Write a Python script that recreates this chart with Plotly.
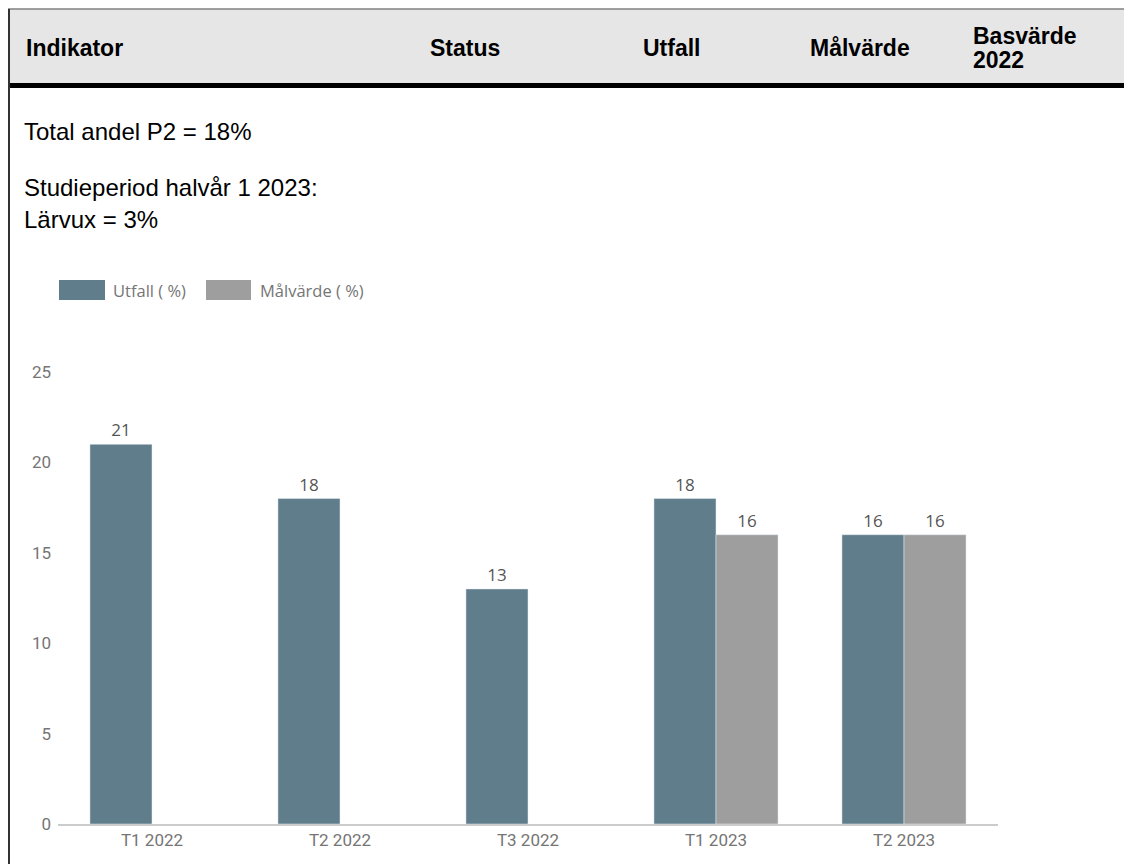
import plotly.graph_objects as go

# ---- data ----
categories = ["T1 2022", "T2 2022", "T3 2022", "T1 2023", "T2 2023"]
utfall = [21, 18, 13, 18, 16]
malvarde = [None, None, None, 16, 16]
series_names = ["Utfall ( %)", "Målvärde ( %)"]
y_ticks = [0, 5, 10, 15, 20, 25]
header_cols = ["Indikator", "Status", "Utfall", "Målvärde", "Basvärde<br>2022"]
info_lines = ["Total andel P2 = 18%", "Studieperiod halvår 1 2023:", "Lärvux = 3%"]

# ---- layout geometry ----
# page has an 8px body margin, so the figure is placed at (8, 8) on the page
OFF = 8
W, H = 1132 - OFF, 864 - OFF
L, R, T, B = 50, 134, 364, 40
PW, PH = W - L - R, H - T - B


def px(x):  # page pixel -> paper x
    return (x - OFF - L) / PW


def py(y):  # page pixel -> paper y
    return (H - B - (y - OFF)) / PH


C_UTF = "#607d8b"
C_MAL = "#9e9e9e"

fig = go.Figure()
fig.add_trace(go.Bar(
    x=categories, y=utfall, name=series_names[0], marker_color=C_UTF,
    text=utfall, textposition="outside", cliponaxis=False,
    textfont=dict(family="Open Sans", size=17, color="#555555"),
))
fig.add_trace(go.Bar(
    x=categories, y=malvarde, name=series_names[1], marker_color=C_MAL,
    text=malvarde, textposition="outside", cliponaxis=False,
    textfont=dict(family="Open Sans", size=17, color="#555555"),
))

shapes = [
    dict(type="rect", xref="paper", yref="paper", x0=px(8), x1=px(1140), y0=py(83), y1=py(9),
         fillcolor="#e6e6e6", line=dict(width=0)),
    dict(type="line", xref="paper", yref="paper", x0=px(8), x1=px(1140), y0=py(9), y1=py(9),
         line=dict(color="#808080", width=1.5)),
    dict(type="rect", xref="paper", yref="paper", x0=px(8), x1=px(1140), y0=py(88), y1=py(83),
         fillcolor="#000000", line=dict(width=0)),
    dict(type="line", xref="paper", yref="paper", x0=px(9), x1=px(9), y0=py(870), y1=py(9),
         line=dict(color="#333333", width=2)),
    dict(type="rect", xref="paper", yref="paper", x0=px(59), x1=px(105), y0=py(300), y1=py(280),
         fillcolor=C_UTF, line=dict(width=0)),
    dict(type="rect", xref="paper", yref="paper", x0=px(206), x1=px(251), y0=py(300), y1=py(280),
         fillcolor=C_MAL, line=dict(width=0)),
]

annotations = []
hdr_x = [24, 428, 641, 808, 971]
for label, hx in zip(header_cols, hdr_x):
    parts = label.split("<br>")
    ys = [48] if len(parts) == 1 else [36, 60]
    for part, hy in zip(parts, ys):
        annotations.append(dict(
            text="<b>" + part + "</b>", xref="paper", yref="paper", x=px(hx), y=py(hy),
            xanchor="left", yanchor="middle", showarrow=False,
            font=dict(family="Liberation Sans, Arial", size=23, color="#000000")))

for line, ly in zip(info_lines, [131, 187, 220]):
    annotations.append(dict(
        text=line, xref="paper", yref="paper", x=px(22), y=py(ly),
        xanchor="left", yanchor="middle", showarrow=False,
        font=dict(family="Liberation Sans, Arial", size=24, color="#000000")))

for name, lx in zip(series_names, [111, 258]):
    annotations.append(dict(
        text=name, xref="paper", yref="paper", x=px(lx), y=py(290),
        xanchor="left", yanchor="middle", showarrow=False,
        font=dict(family="Open Sans", size=16.5, color="#757575")))

fig.update_layout(
    width=W, height=H,
    margin=dict(l=L, r=R, t=T, b=B, pad=0),
    paper_bgcolor="white", plot_bgcolor="white",
    barmode="group", bargap=0.34, bargroupgap=0,
    showlegend=False,
    shapes=shapes, annotations=annotations,
    xaxis=dict(range=[-0.5, 4.5], showline=True, linecolor="#cccccc", linewidth=2,
               showgrid=False, zeroline=False, ticks="",
               tickfont=dict(family="Roboto", size=17, color="#757575")),
    yaxis=dict(range=[0, 25], tickvals=y_ticks, showgrid=False, zeroline=False,
               showline=False, ticks="", ticklabelstandoff=6,
               tickfont=dict(family="Roboto", size=17, color="#757575")),
)

fig.write_html("out.html")
